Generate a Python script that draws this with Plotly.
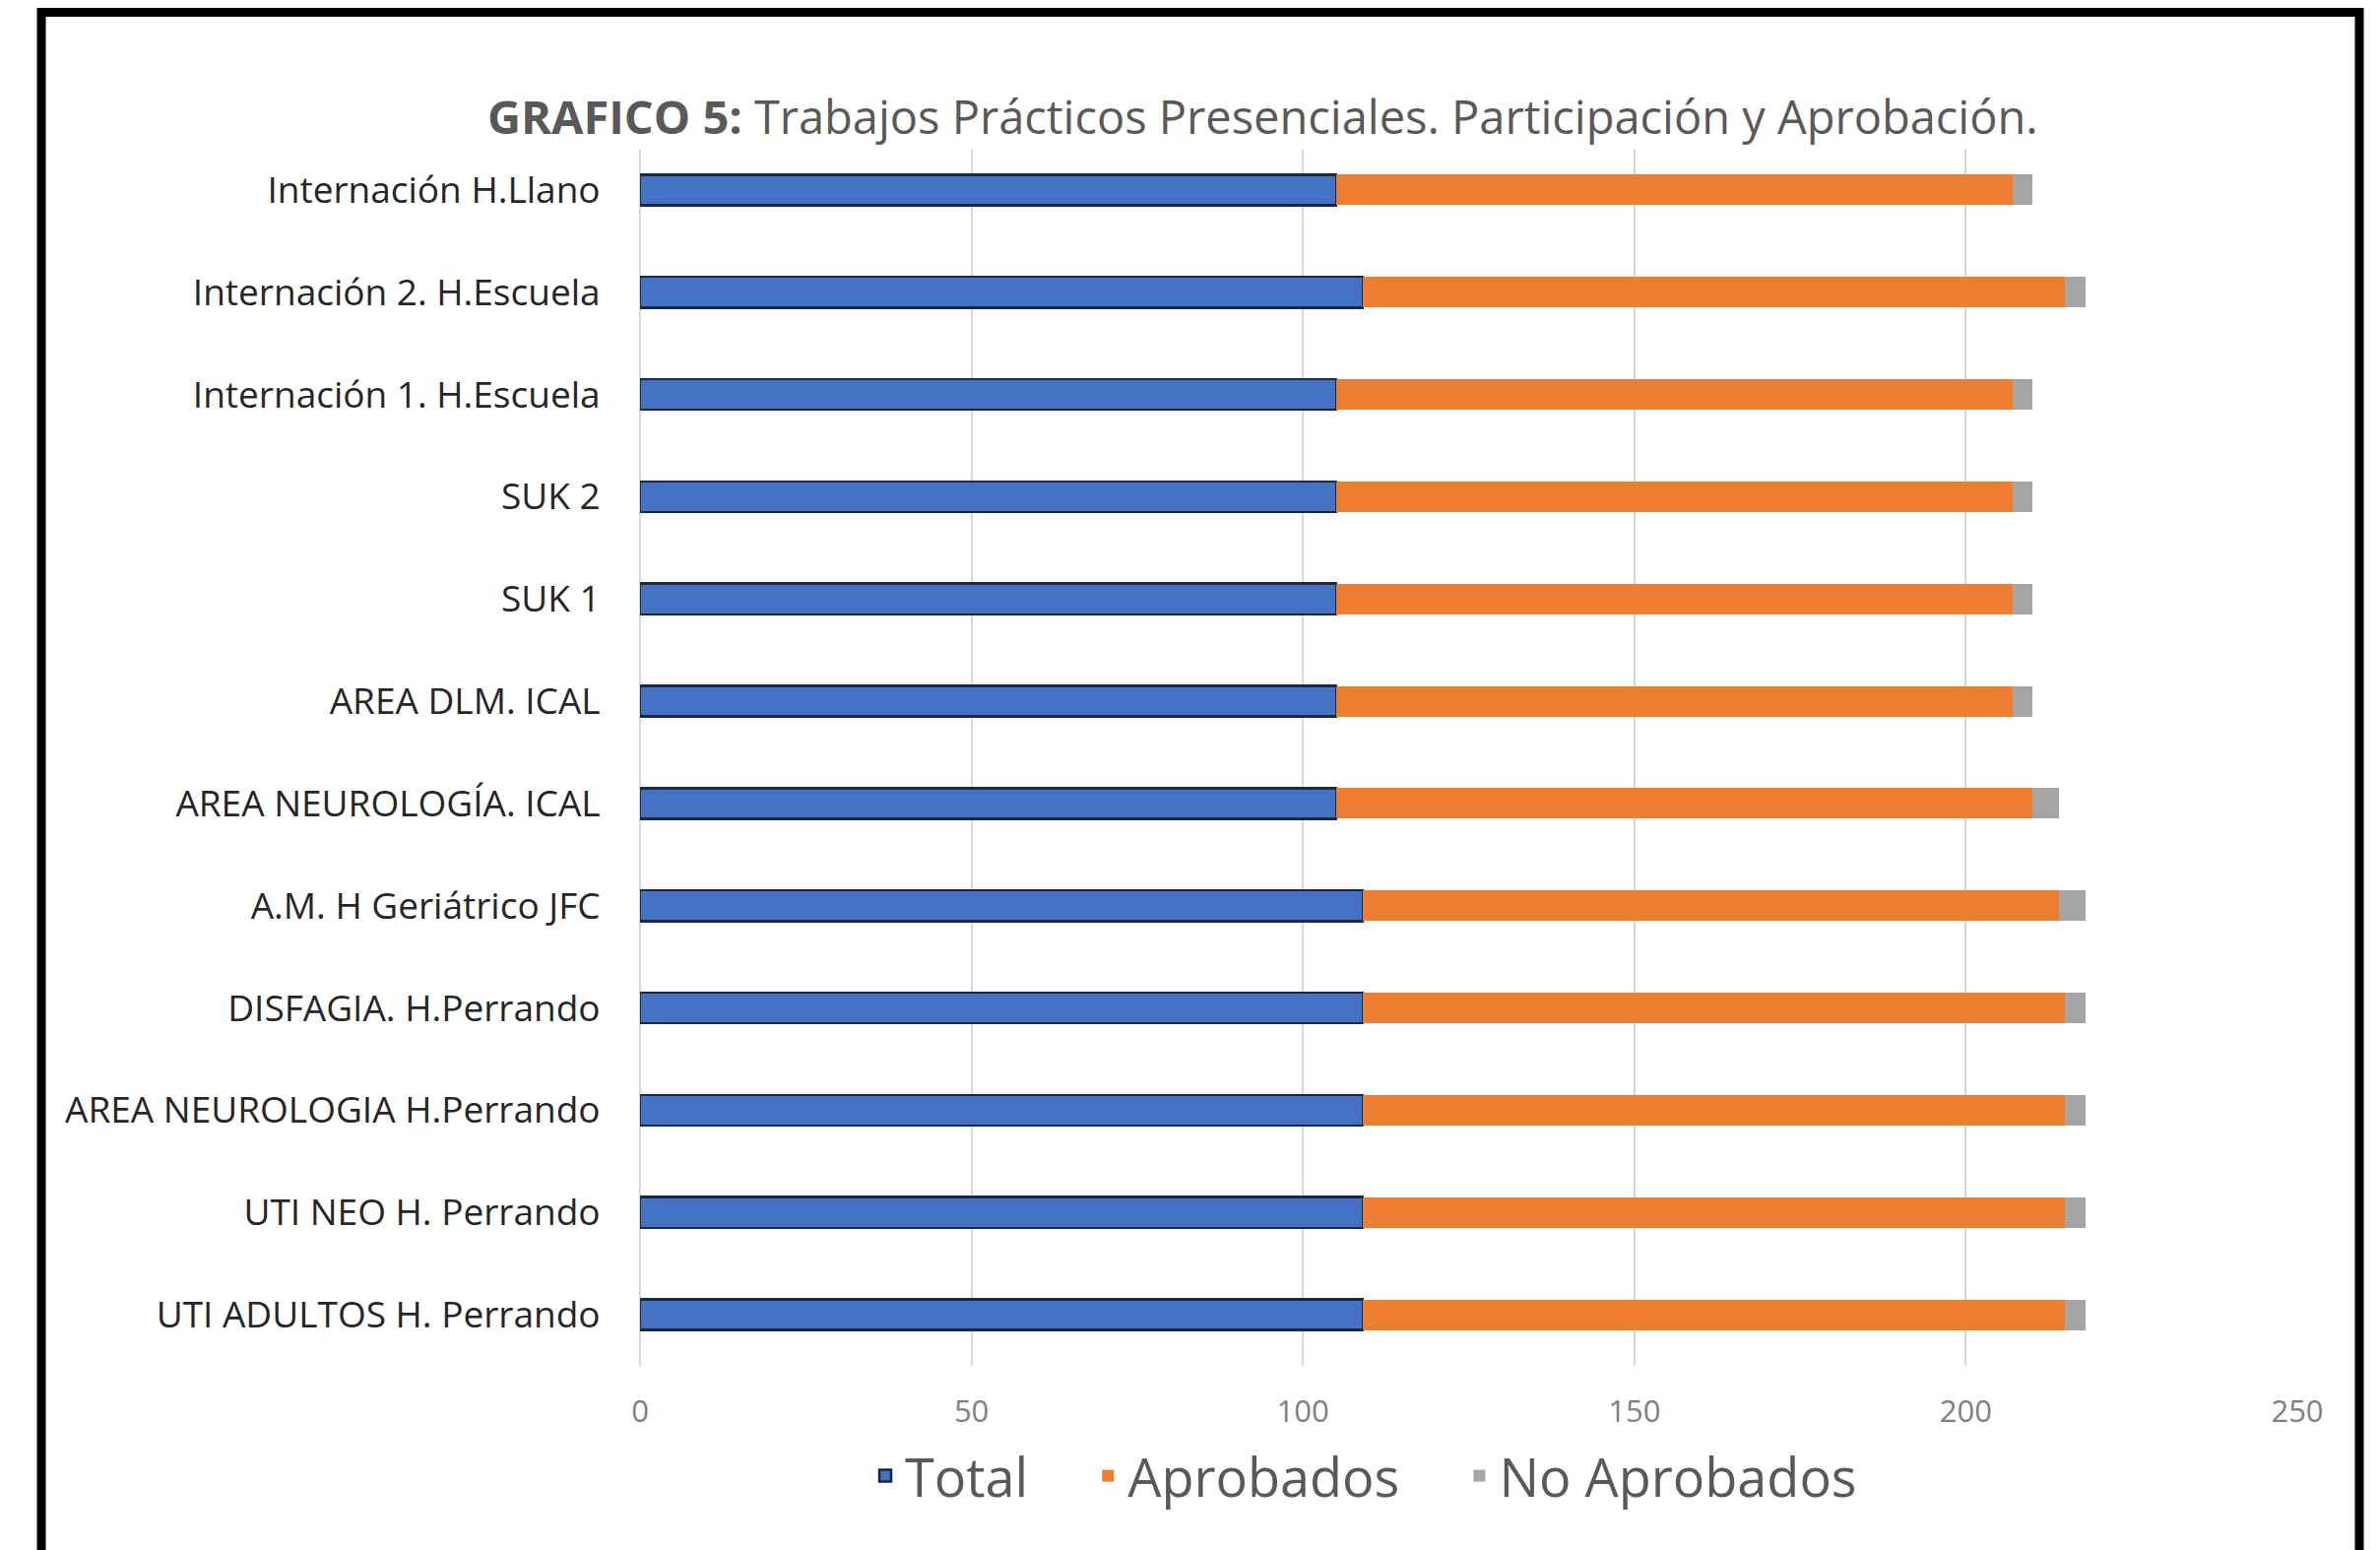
import plotly.graph_objects as go

# ---- data (top to bottom as shown) ----
categories = [
    "Internación H.Llano",
    "Internación 2. H.Escuela",
    "Internación 1. H.Escuela",
    "SUK 2",
    "SUK 1",
    "AREA DLM. ICAL",
    "AREA NEUROLOGÍA. ICAL",
    "A.M. H Geriátrico JFC",
    "DISFAGIA. H.Perrando",
    "AREA NEUROLOGIA H.Perrando",
    "UTI NEO H. Perrando",
    "UTI ADULTOS H. Perrando",
]
total = [105, 109, 105, 105, 105, 105, 105, 109, 109, 109, 109, 109]
aprobados = [102, 106, 102, 102, 102, 102, 105, 105, 106, 106, 106, 106]
no_aprobados = [3, 3, 3, 3, 3, 3, 4, 4, 3, 3, 3, 3]
x_ticks = [0, 50, 100, 150, 200, 250]

# ---- layout geometry (pixels) ----
W, H = 2417, 1574
ML, MR, MT, MB = 650, 84, 141, 187
PW, PH = W - ML - MR, H - MT - MB


def px(x):
    return (x - ML) / PW


def py(y):
    return (H - MB - y) / PH


FONT = "Open Sans, Segoe UI, sans-serif"
NB = "\u00a0"

fig = go.Figure()
fig.add_trace(go.Bar(
    y=categories, x=total, name="Total" + NB * 4, orientation="h", width=0.3,
    marker=dict(color="#4472C4", line=dict(color="#1B2640", width=2.5)),
))
fig.add_trace(go.Bar(
    y=categories, x=aprobados, name="Aprobados" + NB * 4, orientation="h", width=0.3,
    marker=dict(color="#ED7D31", line=dict(width=0)),
))
fig.add_trace(go.Bar(
    y=categories, x=no_aprobados, name="No Aprobados", orientation="h", width=0.3,
    marker=dict(color="#A5A5A5", line=dict(width=0)),
))

fig.update_layout(
    width=W, height=H, autosize=False,
    barmode="stack",
    plot_bgcolor="white", paper_bgcolor="white",
    margin=dict(l=ML, r=MR, t=MT, b=MB, pad=0),
    font=dict(family=FONT, color="#595959"),
    showlegend=True,
    legend=dict(
        orientation="h", x=px(1385), y=py(1499), xanchor="center", yanchor="middle",
        font=dict(size=54, color="#595959", family=FONT),
        traceorder="normal", itemwidth=30,
    ),
    xaxis=dict(
        range=[0, 250], tickvals=x_ticks, ticktext=[str(v) for v in x_ticks],
        showgrid=True, gridcolor="#D9D9D9", gridwidth=1.5,
        zeroline=True, zerolinecolor="#D9D9D9", zerolinewidth=1.5,
        showline=False, ticks="outside", ticklen=19, tickcolor="rgba(0,0,0,0)",
        tickfont=dict(size=31, color="#7F7F7F", family=FONT),
        fixedrange=True,
    ),
    yaxis=dict(
        categoryorder="array", categoryarray=categories,
        autorange="reversed",
        showgrid=False, zeroline=False, showline=False,
        ticks="outside", ticklen=32, tickcolor="rgba(0,0,0,0)",
        tickfont=dict(size=37, color="#262626", family=FONT),
        fixedrange=True,
    ),
    annotations=[dict(
        text="<b>GRAFICO 5:</b> Trabajos Prácticos Presenciales. Participación y Aprobación.",
        xref="paper", yref="paper", x=px(1282), y=py(118),
        xanchor="center", yanchor="middle", showarrow=False,
        font=dict(size=47, color="#595959", family=FONT),
        bgcolor="white",
    )],
    shapes=[
        dict(type="line", xref="paper", yref="paper", x0=px(38), x1=px(2400), y0=py(12.5), y1=py(12.5),
             line=dict(color="black", width=9)),
        dict(type="line", xref="paper", yref="paper", x0=px(42), x1=px(42), y0=py(8), y1=py(1600),
             line=dict(color="black", width=9)),
        dict(type="line", xref="paper", yref="paper", x0=px(2396), x1=px(2396), y0=py(8), y1=py(1600),
             line=dict(color="black", width=9)),
    ],
)

fig.write_html(
    "out.html",
    config={"displayModeBar": False},
    post_script="document.body.style.margin='0';document.body.style.overflow='hidden';",
)
